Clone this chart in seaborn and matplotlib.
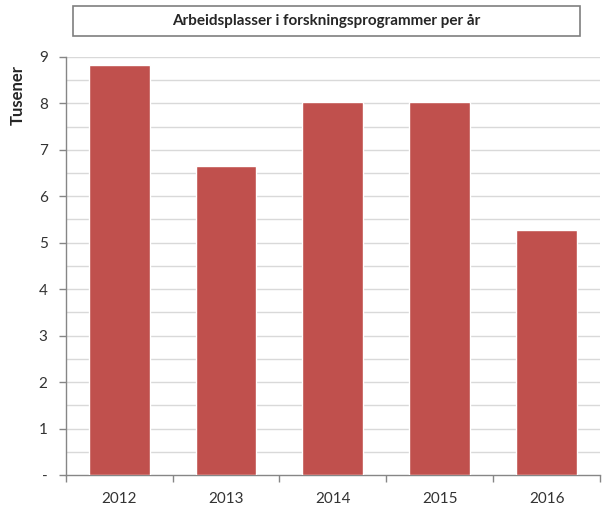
import matplotlib.pyplot as plt
import seaborn as sns
import pandas as pd
import numpy as np
from matplotlib.patches import Rectangle

# Data
years = ['2012', '2013', '2014', '2015', '2016']
tusener = [8.83, 6.66, 8.03, 8.02, 5.28]
yticklabels = ['-', '1', '2', '3', '4', '5', '6', '7', '8', '9']

df = pd.DataFrame({'år': years, 'tusener': tusener})

sns.set_style('white')
plt.rcParams['font.family'] = ['Lato', 'DejaVu Sans']

fig = plt.figure(figsize=(6.03, 5.08), dpi=100)
ax = fig.add_axes([0.109, 0.065, 0.886, 0.823])

sns.barplot(data=df, x='år', y='tusener', color='#C0504D', width=0.57,
            saturation=1, ax=ax, zorder=3)

ax.set_xlim(-0.5, 4.5)
ax.set_ylim(0, 9)

# gridlines every 0.5
for g in np.arange(0.5, 9.01, 0.5):
    ax.axhline(g, color='#D9D9D9', lw=1, zorder=1)

ax.set_yticks(range(10))
ax.set_yticklabels(yticklabels, fontsize=11, color='#333333')
ax.tick_params(axis='y', length=5, width=1, color='#868686', direction='out', left=True, pad=8)

ax.set_xticks(range(5))
ax.set_xticklabels(years, fontsize=11, color='#333333')
ax.set_xticks(np.arange(-0.5, 4.6, 1), minor=True)
ax.tick_params(axis='x', which='major', length=0, pad=12)
ax.tick_params(axis='x', which='minor', length=5, width=1, color='#868686', direction='out', bottom=True)

for s in ['top', 'right']:
    ax.spines[s].set_visible(False)
for s in ['left', 'bottom']:
    ax.spines[s].set_color('#868686')
    ax.spines[s].set_linewidth(1)

ax.set_xlabel('')
ax.set_ylabel('Tusener', fontsize=12, fontweight='bold')
ax.yaxis.set_label_coords(-0.075, 0.91)

# title box
fig.add_artist(Rectangle((73 / 603, 1 - 36 / 508), 507 / 603, 30 / 508, transform=fig.transFigure,
                         facecolor='white', edgecolor='#7F7F7F', lw=1.2))
fig.text(326 / 603, 1 - 21 / 508, 'Arbeidsplasser i forskningsprogrammer per år', ha='center', va='center',
         fontsize=11, fontweight='bold')

fig.savefig('out.png', dpi=100)
